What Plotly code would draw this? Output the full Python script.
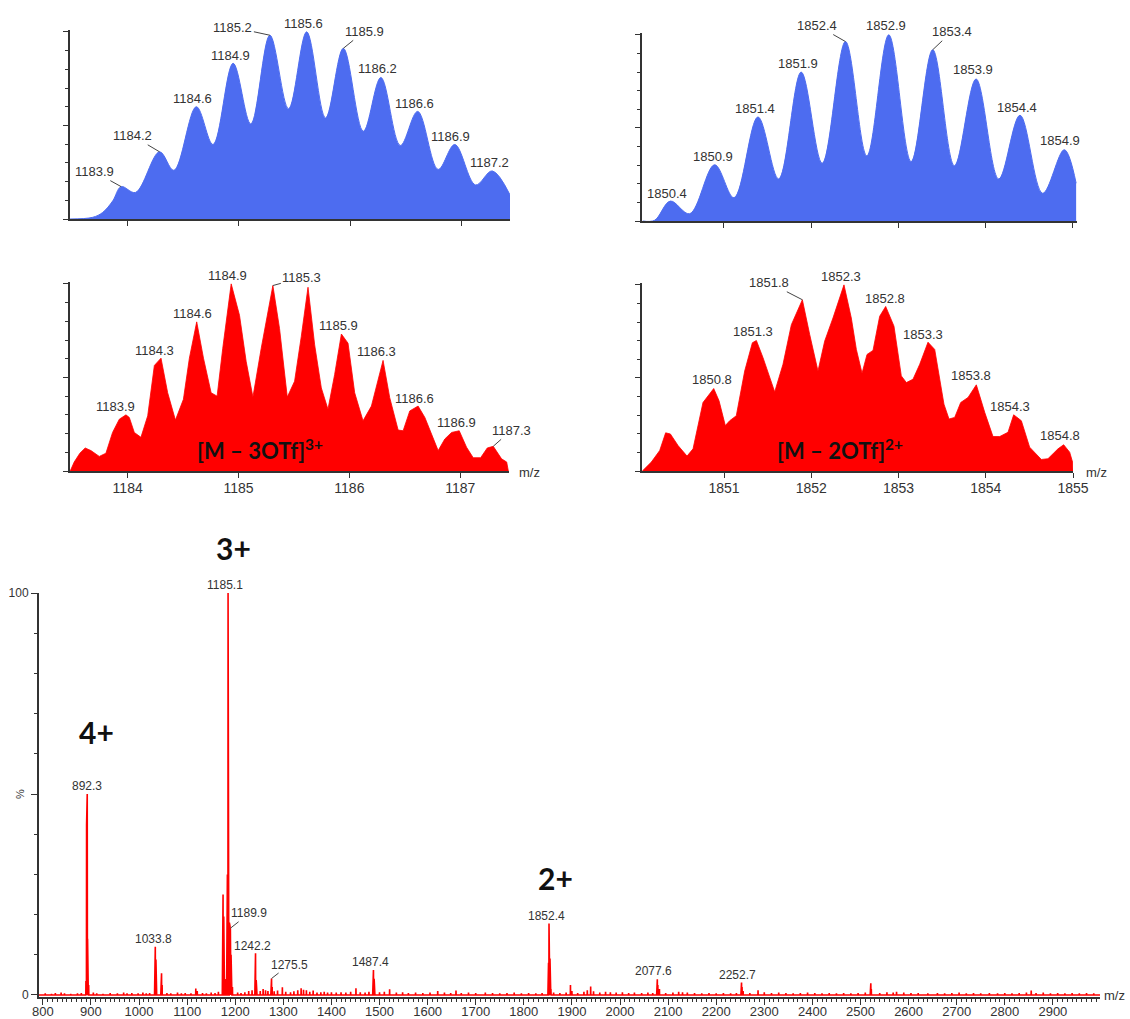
import plotly.graph_objects as go

W, H = 1130, 1019
BLUE = "#4D6CF0"
RED = "#FF0000"
AX = "#333333"
FONT = "Liberation Sans, Arial, sans-serif"
BIG = "Lato, sans-serif"

# ---------------- data: top-left (blue, 3+ simulated) ----------------
tl_mz = [1183.473, 1183.684, 1183.774, 1183.865, 1183.94, 1184.07, 1184.286, 1184.415, 1184.617,
         1184.767, 1184.948, 1185.107, 1185.279, 1185.447, 1185.61, 1185.78, 1185.94, 1186.12,
         1186.278, 1186.453, 1186.609, 1186.793, 1186.943, 1187.13, 1187.28, 1187.44]
tl_int = [0, 0.9, 3.5, 9.7, 17.3, 14.2, 35.9, 26.0, 60.0,
          39.8, 83.2, 50.8, 98.2, 58.9, 100, 54.0, 91.2, 46.9,
          75.6, 39.3, 57.5, 26.5, 39.8, 18.2, 25.7, 12.9]
tl_labels = ["1183.9", "1184.2", "1184.6", "1184.9", "1185.2", "1185.6",
             "1185.9", "1186.2", "1186.6", "1186.9", "1187.2"]

# ---------------- data: top-right (blue, 2+ simulated) ----------------
tr_mz = [1850.07, 1850.205, 1850.385, 1850.607, 1850.893, 1851.115, 1851.39, 1851.627, 1851.886,
         1852.127, 1852.394, 1852.639, 1852.891, 1853.147, 1853.395, 1853.644, 1853.892, 1854.152,
         1854.396, 1854.656, 1854.904, 1855.04]
tr_int = [0, 0.4, 10.7, 3.9, 30.2, 12.5, 55.9, 22.6, 80.0,
          31.0, 96.4, 35.0, 100, 31.9, 92.0, 29.7, 76.3, 22.6,
          56.8, 14.9, 38.3, 20.3]
tr_labels = ["1850.4", "1850.9", "1851.4", "1851.9", "1852.4", "1852.9",
             "1853.4", "1853.9", "1854.4", "1854.9"]

# ---------------- data: middle-left (red, 3+ measured) ----------------
ml_mz = [1183.482, 1183.518, 1183.569, 1183.617, 1183.669, 1183.744, 1183.804, 1183.864, 1183.925,
         1183.985, 1184.015, 1184.060, 1184.120, 1184.181, 1184.241, 1184.301, 1184.361, 1184.431,
         1184.503, 1184.557, 1184.623, 1184.684, 1184.753, 1184.807, 1184.858, 1184.934, 1185.009,
         1185.069, 1185.130, 1185.205, 1185.310, 1185.370, 1185.440, 1185.506, 1185.566, 1185.627,
         1185.687, 1185.747, 1185.807, 1185.867, 1185.928, 1185.988, 1186.048, 1186.123, 1186.199,
         1186.304, 1186.364, 1186.440, 1186.485, 1186.545, 1186.620, 1186.681, 1186.801, 1186.861,
         1186.922, 1186.991, 1187.057, 1187.117, 1187.184, 1187.244, 1187.298, 1187.373, 1187.419,
         1187.434]
ml_int = [0, 4.8, 9.5, 12.3, 10.9, 7.8, 9.5, 20.6, 27.7,
          30.0, 28.6, 20.6, 18.0, 29.5, 56.4, 60.3, 41.8, 27.2,
          38.3, 60.3, 79.7, 60.3, 41.8, 40.0, 65.6, 100, 83.2,
          58.6, 39.5, 65.6, 99.1, 76.2, 39.5, 48.0, 71.8, 98.2,
          67.4, 44.4, 33.0, 51.5, 73.2, 68.3, 41.8, 26.8, 34.7,
          59.1, 39.2, 21.9, 21.5, 32.1, 34.7, 28.6, 10.9, 17.1,
          20.6, 21.5, 12.7, 7.1, 7.1, 12.3, 13.2, 6.5, 4.8,
          0]
ml_labels = ["1183.9", "1184.3", "1184.6", "1184.9", "1185.3",
             "1185.9", "1186.3", "1186.6", "1186.9", "1187.3"]
ml_ticks = [1184, 1185, 1186, 1187]

# ---------------- data: middle-right (red, 2+ measured) ----------------
mr_mz = [1850.064, 1850.167, 1850.263, 1850.331, 1850.385, 1850.473, 1850.576, 1850.645, 1850.759,
         1850.882, 1850.943, 1851.015, 1851.065, 1851.141, 1851.237, 1851.325, 1851.371, 1851.447,
         1851.581, 1851.676, 1851.772, 1851.898, 1851.982, 1852.077, 1852.154, 1852.249, 1852.375,
         1852.459, 1852.517, 1852.582, 1852.639, 1852.708, 1852.784, 1852.853, 1852.948, 1853.032,
         1853.090, 1853.166, 1853.243, 1853.338, 1853.415, 1853.521, 1853.579, 1853.644, 1853.713,
         1853.797, 1853.892, 1853.988, 1854.083, 1854.160, 1854.255, 1854.320, 1854.408, 1854.503,
         1854.637, 1854.713, 1854.828, 1854.893, 1854.962, 1854.995, 1855.0]
mr_int = [0, 4.8, 11.0, 20.5, 19.9, 13.7, 8.0, 11.9, 36.8,
          44.3, 37.7, 24.4, 27.0, 29.7, 53.7, 68.9, 70.1, 60.9,
          42.5, 57.3, 78.6, 92.0, 73.3, 53.7, 69.8, 82.2, 100,
          82.2, 65.3, 52.5, 62.6, 64.8, 83.1, 88.4, 77.8, 51.1,
          47.5, 49.3, 57.3, 69.2, 65.3, 35.9, 27.9, 28.8, 36.8,
          39.5, 46.3, 31.5, 18.5, 18.5, 20.8, 30.2, 27.0, 12.8,
          6.2, 6.6, 11.9, 14.1, 10.1, 4.8, 0]
mr_labels = ["1850.8", "1851.3", "1851.8", "1852.3", "1852.8",
             "1853.3", "1853.8", "1854.3", "1854.8"]
mr_ticks = [1851, 1852, 1853, 1854, 1855]

# ---------------- data: full spectrum ----------------
main_mz = [889.6, 890.9, 892.3, 893.0, 894.2, 895.3,
           1032.5, 1033.8, 1035.1, 1036.4, 1045.5, 1046.8, 1048.0,
           1173.4, 1174.7, 1176.1, 1177.4, 1178.8, 1182.3, 1183.7, 1185.1, 1186.4, 1187.8,
           1189.2, 1189.9, 1191.3, 1192.8, 1194.2,
           1241.0, 1242.2, 1243.6, 1245.0,
           1274.3, 1275.5, 1276.8,
           1486.1, 1487.4, 1488.8, 1490.1,
           1850.4, 1851.4, 1852.4, 1853.4, 1854.4, 1855.4, 1856.4,
           2076.5, 2077.6, 2078.7,
           2251.7, 2252.7, 2253.8,
           2520.5, 2521.5, 2522.5]
main_int = [3.5, 42.3, 50.0, 14.0, 4.0, 2.5,
            7.0, 12.0, 8.8, 3.0, 5.0, 5.4, 2.5,
            8.0, 25.0, 19.5, 9.0, 4.0, 10.0, 30.0, 100, 86.0, 18.0,
            17.0, 16.6, 10.0, 5.8, 2.0,
            3.0, 10.4, 3.7, 1.5,
            1.5, 4.1, 2.0,
            2.0, 6.2, 4.0, 1.5,
            3.0, 8.0, 17.8, 14.0, 9.1, 4.0, 1.5,
            1.5, 3.9, 2.5,
            1.2, 3.1, 2.0,
            1.5, 2.9, 1.5]
noise_mz = [805, 818, 826, 838, 845, 858, 872, 880,
            905, 912, 925, 940, 955, 968, 975, 985, 998, 1008, 1015, 1022,
            1058, 1066, 1080, 1088, 1096, 1108, 1118, 1121, 1132, 1140, 1150, 1158, 1165,
            1205, 1212, 1220, 1228, 1235,
            1252, 1258, 1263, 1268, 1281, 1288, 1298, 1305, 1315, 1322, 1330, 1337, 1342, 1348,
            1355, 1362, 1370, 1378, 1385, 1392, 1400, 1410, 1420, 1430, 1440, 1451, 1460, 1470, 1478,
            1500, 1510, 1521, 1535, 1548, 1560, 1575, 1590, 1605, 1621, 1635, 1648, 1659, 1670,
            1685, 1700, 1720, 1735, 1750, 1765, 1780, 1795, 1810, 1825, 1838,
            1862, 1875, 1888, 1897, 1900, 1912, 1925, 1932, 1939, 1945, 1958, 1970, 1980, 1992,
            2005, 2018, 2030, 2045, 2058, 2068,
            2082, 2095, 2110, 2122, 2130, 2140, 2155, 2170, 2185, 2200, 2215, 2230, 2242,
            2256, 2270, 2287, 2300, 2315, 2330, 2345, 2360, 2375, 2390, 2405, 2420, 2435, 2450,
            2465, 2480, 2495, 2510, 2540, 2555, 2568, 2575, 2590, 2605, 2620, 2640, 2660,
            2675, 2690, 2705, 2720, 2735, 2750, 2768, 2785, 2800, 2815, 2830, 2845, 2855, 2865,
            2880, 2895, 2910, 2925, 2940, 2955, 2970, 2985]
noise_int = [0.4, 0.3, 0.5, 0.6, 0.4, 0.3, 0.4, 0.5,
             0.6, 0.4, 0.3, 0.5, 0.4, 0.6, 0.4, 0.5, 0.4, 0.6, 0.4, 0.5,
             0.5, 0.4, 0.6, 0.4, 0.5, 0.4, 1.6, 1.0, 0.5, 0.4, 0.6, 0.5, 0.8,
             0.6, 0.5, 0.7, 1.0, 1.2,
             1.0, 1.5, 1.2, 1.0, 0.9, 1.1, 1.9, 0.8, 0.7, 0.9, 1.2, 1.7, 1.3, 1.2,
             0.8, 1.1, 0.6, 0.7, 0.8, 0.6, 0.7, 0.6, 0.7, 0.6, 0.8, 1.7, 0.7, 0.6, 0.8,
             0.7, 0.8, 1.4, 0.6, 0.7, 0.5, 0.6, 0.5, 0.6, 1.0, 0.6, 0.5, 1.1, 0.5,
             0.6, 0.5, 0.6, 0.5, 0.4, 0.5, 0.6, 0.4, 0.5, 0.4, 0.5,
             0.6, 0.5, 0.6, 2.5, 1.0, 0.5, 0.8, 1.2, 2.1, 0.9, 0.6, 0.8, 0.7, 0.6,
             0.7, 0.5, 0.6, 0.5, 0.6, 0.5,
             1.5, 0.5, 0.6, 0.8, 0.7, 0.6, 0.5, 0.4, 0.5, 0.4, 0.5, 0.4, 0.5,
             1.0, 0.5, 1.2, 0.7, 0.5, 0.6, 0.5, 0.4, 0.5, 0.6, 0.5, 0.4, 0.5, 0.4,
             0.5, 0.4, 0.5, 0.6, 0.5, 0.7, 0.6, 0.8, 0.6, 0.5, 0.5, 0.4, 0.5,
             0.4, 0.5, 0.6, 0.4, 0.5, 0.4, 0.5, 0.4, 0.5, 0.4, 0.5, 0.6, 1.1, 0.5,
             0.6, 0.4, 0.5, 0.4, 0.5, 0.4, 0.5, 0.4]
full_labels = ["892.3", "1033.8", "1185.1", "1189.9", "1242.2", "1275.5",
               "1487.4", "1852.4", "2077.6", "2252.7"]
full_xticks = list(range(800, 3000, 100))

# ---------------- style: label offsets (px) and leader flags ----------------
tl_off = [(-27, -15, 1), (-27, -16, 1), (-4, -8, 0), (-3, -8, 0), (-37, -8, 1), (-3, -8, 0),
          (21, -17, 1), (-3, -9, 0), (-3, -8, 0), (-4, -8, 0), (-3, -8, 0)]
tr_off = [(-3, -8, 0), (-2, -8, 0), (-3, -8, 0), (-3, -9, 0), (-28, -16, 1), (-3, -9, 0),
          (19, -18, 1), (-3, -9, 0), (-3, -8, 0), (-4, -9, 0)]
ml_off = [(-10, -8, 0), (-7, -8, 0), (-4, -8, 0), (-4, -8, 0), (29, -8, 1),
          (-3, -9, 0), (-7, -9, 0), (-4, -8, 0), (-3, -8, 0), (18, -16, 1)]
mr_off = [(-2, -9, 0), (-3, -9, 0), (-33, -17, 1), (-3, -8, 0), (-1, -8, 0),
          (-5, -8, 0), (-5, -9, 0), (-4, -8, 0), (-4, -9, 0)]
full_off = [(0, -8, 0), (-2, -8, 0), (-3, -8, 0), (19, -15, 1), (-3, -7, 0), (18, -14, 1),
            (-3, -8, 0), (-3, -7, 0), (-4, -8, 0), (-4, -8, 0)]


def xd(a, b):
    return [a / W, b / W]


def yd(top, bottom):
    return [1 - bottom / H, 1 - top / H]


fig = go.Figure()

# full spectrum as stick profile
peaks = sorted(zip(main_mz + noise_mz, main_int + noise_int))
spec_x, spec_y = [792], [0]
for m, h in peaks:
    spec_x += [m - 0.3, m, m + 0.3]
    spec_y += [0, h, 0]
spec_x.append(2998)
spec_y.append(0)
fig.add_trace(go.Scatter(x=spec_x, y=spec_y, mode="lines", line=dict(color=RED, width=1.6),
                         xaxis="x", yaxis="y", hoverinfo="skip"))

fig.add_trace(go.Scatter(x=tl_mz, y=tl_int, mode="lines",
                         line=dict(color=BLUE, width=1, shape="spline", smoothing=1.0),
                         fill="tozeroy", fillcolor=BLUE, xaxis="x2", yaxis="y2", hoverinfo="skip"))
fig.add_trace(go.Scatter(x=tr_mz, y=tr_int, mode="lines",
                         line=dict(color=BLUE, width=1, shape="spline", smoothing=1.0),
                         fill="tozeroy", fillcolor=BLUE, xaxis="x3", yaxis="y3", hoverinfo="skip"))
fig.add_trace(go.Scatter(x=ml_mz, y=ml_int, mode="lines", line=dict(color=RED, width=0.8),
                         fill="tozeroy", fillcolor=RED, xaxis="x4", yaxis="y4", hoverinfo="skip"))
fig.add_trace(go.Scatter(x=mr_mz, y=mr_int, mode="lines", line=dict(color=RED, width=0.8),
                         fill="tozeroy", fillcolor=RED, xaxis="x5", yaxis="y5", hoverinfo="skip"))

base_axis = dict(showgrid=False, zeroline=False, showline=True, linecolor=AX, linewidth=2,
                 ticks="outside", tickcolor=AX, mirror=False, fixedrange=True, automargin=False)

small_y = dict(base_axis, range=[0, 101], tickvals=[0, 50, 100], ticklen=5, tickwidth=1,
               showticklabels=False,
               minor=dict(tick0=0, dtick=10, ticklen=3, tickwidth=1, tickcolor=AX, ticks="outside"))

fig.update_layout(
    width=W, height=H, margin=dict(l=0, r=0, t=0, b=0, pad=0, autoexpand=False),
    paper_bgcolor="white", plot_bgcolor="white", showlegend=False,
    font=dict(family=FONT, color=AX),
    xaxis=dict(base_axis, domain=xd(39, 1100), range=[792, 2998], anchor="y",
               tickvals=full_xticks, ticklen=6, tickwidth=1.2, ticklabelstandoff=-5,
               tickfont=dict(family=FONT, size=13, color=AX),
               minor=dict(tick0=800, dtick=10, ticklen=3, tickwidth=1, tickcolor=AX, ticks="outside")),
    yaxis=dict(base_axis, domain=yd(593, 997), range=[-0.5, 100], anchor="x",
               tickvals=[0, 50, 100], ticktext=["0", " ", "100"], ticklen=6, tickwidth=1.2,
               tickfont=dict(family=FONT, size=12, color=AX),
               minor=dict(tick0=0, dtick=10, ticklen=3, tickwidth=1, tickcolor=AX, ticks="outside")),
    xaxis2=dict(base_axis, domain=xd(70, 510), range=[1183.48, 1187.44], anchor="y2",
                dtick=1, tick0=1184, ticklen=5, tickwidth=1, showticklabels=False),
    yaxis2=dict(small_y, domain=yd(30, 219), anchor="x2"),
    xaxis3=dict(base_axis, domain=xd(642, 1077), range=[1850.06, 1855.05], anchor="y3",
                dtick=1, tick0=1851, ticklen=5, tickwidth=1, showticklabels=False),
    yaxis3=dict(small_y, domain=yd(33, 221), anchor="x3"),
    xaxis4=dict(base_axis, domain=xd(70, 509), range=[1183.48, 1187.44], anchor="y4",
                tickvals=ml_ticks, ticklen=5, tickwidth=1, ticklabelstandoff=-2,
                tickfont=dict(family=FONT, size=14, color=AX)),
    yaxis4=dict(small_y, domain=yd(282, 471), anchor="x4"),
    xaxis5=dict(base_axis, domain=xd(642, 1073), range=[1850.06, 1855.0], anchor="y5",
                tickvals=mr_ticks, ticklen=5, tickwidth=1, ticklabelstandoff=-2,
                tickfont=dict(family=FONT, size=14, color=AX)),
    yaxis5=dict(small_y, domain=yd(283, 471), anchor="x5"),
)


def add_peak_labels(xs, ys, labels, offs, xref, yref, win, size):
    for lab, (ox, oy, lead) in zip(labels, offs):
        target = float(lab)
        cand = [(y, x) for x, y in zip(xs, ys) if abs(x - target) <= win]
        py, px = max(cand)
        fig.add_annotation(x=px, y=py, xref=xref, yref=yref, text=lab,
                           showarrow=True, arrowhead=0, arrowwidth=1,
                           arrowcolor="#444444" if lead else "rgba(0,0,0,0)",
                           ax=ox, ay=oy, standoff=0,
                           font=dict(family=FONT, size=size, color="#333333"))


add_peak_labels(tl_mz, tl_int, tl_labels, tl_off, "x2", "y2", 0.15, 13)
add_peak_labels(tr_mz, tr_int, tr_labels, tr_off, "x3", "y3", 0.15, 13)
add_peak_labels(ml_mz, ml_int, ml_labels, ml_off, "x4", "y4", 0.15, 13)
add_peak_labels(mr_mz, mr_int, mr_labels, mr_off, "x5", "y5", 0.15, 13)
add_peak_labels(main_mz, main_int, full_labels, full_off, "x", "y", 0.5, 12)


def paper_text(text, px, py, size, family=FONT, bold=False, color="#333333", angle=0):
    fig.add_annotation(x=px / W, y=1 - py / H, xref="paper", yref="paper", text=text,
                       showarrow=False, textangle=angle, xanchor="center", yanchor="middle",
                       font=dict(family=family, size=size, color=color,
                                 weight="bold" if bold else "normal"))


paper_text("m/z", 529, 473, 13)
paper_text("m/z", 1096, 473, 13)
paper_text("m/z", 1114, 995, 13)
paper_text("%", 20, 794, 11, angle=-90)
paper_text("4+", 96, 732, 30, family=BIG, bold=True, color="#111111")
paper_text("3+", 233, 548, 30, family=BIG, bold=True, color="#111111")
paper_text("2+", 555, 878, 30, family=BIG, bold=True, color="#111111")
paper_text("[M – 3OTf]<sup>3+</sup>", 260, 449, 22, family=BIG, bold=True, color="#111111")
paper_text("[M – 2OTf]<sup>2+</sup>", 840, 449, 22, family=BIG, bold=True, color="#111111")

fig.write_html("out.html", config={"displayModeBar": False},
               post_script="document.body.style.margin='0px';document.body.style.overflow='hidden';")
